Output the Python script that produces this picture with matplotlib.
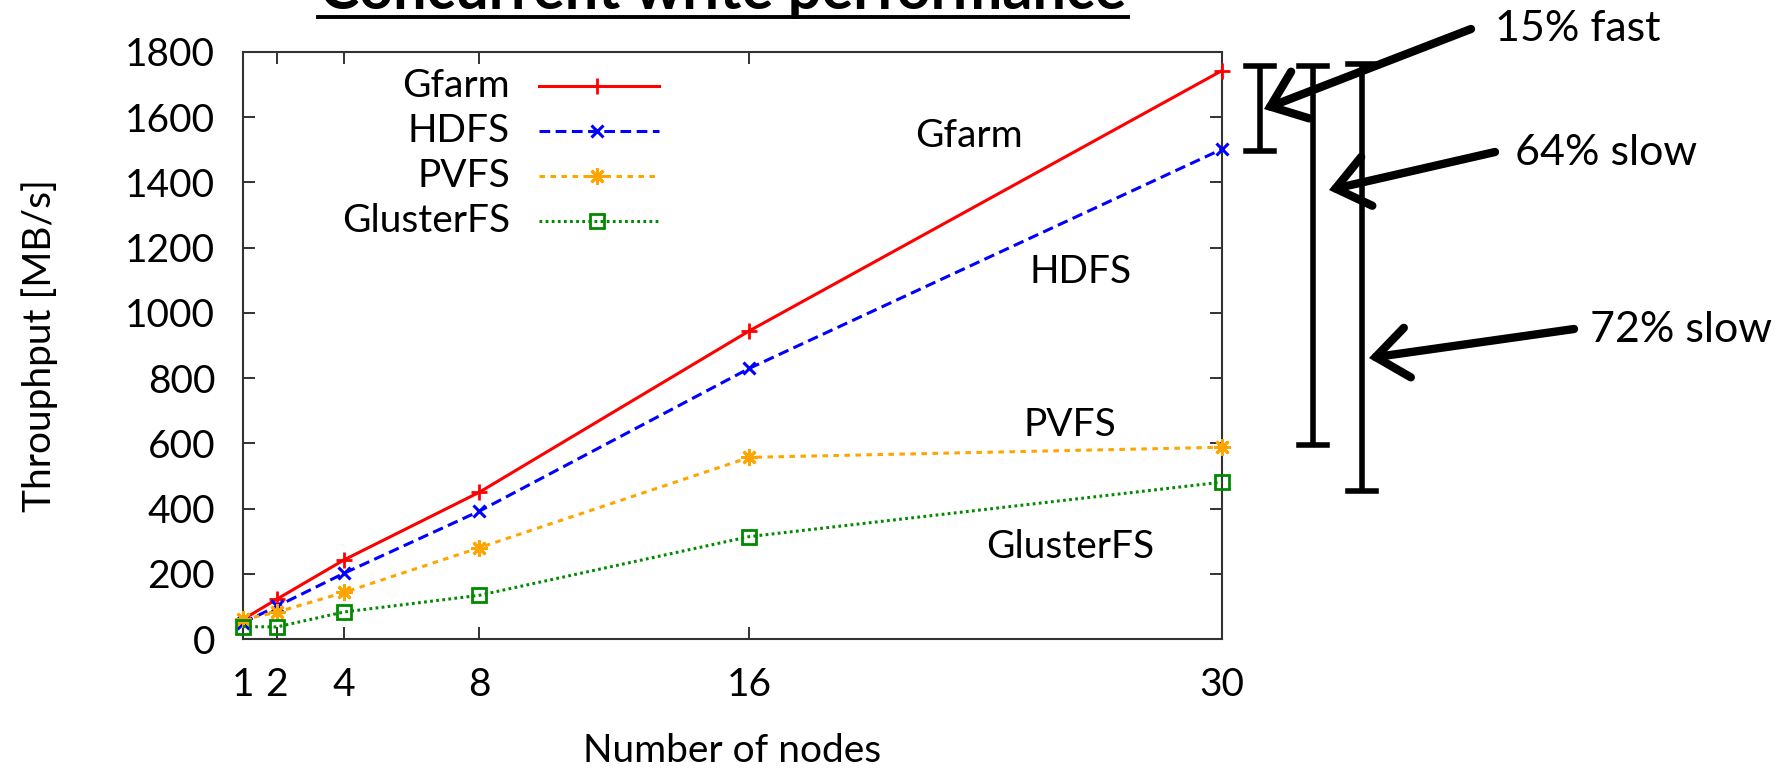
import matplotlib
matplotlib.use("Agg")
import matplotlib.pyplot as plt
from matplotlib.lines import Line2D

plt.rcParams['font.family'] = ['Lato', 'DejaVu Sans']

nodes   = [1, 2, 4, 8, 16, 30]
gfarm   = [60, 122, 243, 450, 945, 1743]
hdfs    = [50, 100, 202, 392, 830, 1502]
pvfs    = [60, 82, 143, 280, 557, 588]
gluster = [38, 37, 83, 134, 314, 481]

names   = ["Gfarm", "HDFS", "PVFS", "GlusterFS"]
colors  = ["#ff0000", "#0000ff", "#ffa500", "#008a00"]
# in-plot series labels (data coords)
label_x = [22.5, 25.8, 25.5, 25.5]
label_y = [1543, 1126, 657, 283]

# comparison brackets at the right (top, bottom in MB/s)
br_x      = [31.13, 32.70, 34.15]
br_top    = [1756, 1756, 1764]
br_bottom = [1495, 594, 455]
br_text   = ["15% fast", "64% slow", "72% slow"]

W, H = 1779, 773
fig = plt.figure(figsize=(W / 100, H / 100), dpi=100)
ax = fig.add_axes([243 / W, (H - 639) / H, 979 / W, 587 / H])

series = [gfarm, hdfs, pvfs, gluster]
styles = [
    dict(ls='-', marker='+', ms=11, mew=2),
    dict(ls=(0, (3.5, 1.8)), marker='x', ms=9, mew=2.2),
    dict(ls=(0, (1.8, 1.8)), marker=(8, 2, 0), ms=12, mew=2),
    dict(ls=(0, (0.9, 1.1)), marker='s', ms=10, mew=2, mfc='none'),
]
for vals, c, st in zip(series, colors, styles):
    ax.plot(nodes, vals, color=c, lw=2.2, clip_on=False, zorder=3, **st)

# gnuplot-like legend: text right-aligned, sample on the right
leg_y = [0.9426, 0.8659, 0.7893, 0.7121]
for name, c, st, yy in zip(names, colors, styles, leg_y):
    ax.text(0.2727, yy, name, transform=ax.transAxes, ha='right', va='center', fontsize=28)
    s = dict(st)
    mk = dict(marker=s.pop('marker'), ms=s.pop('ms'), mew=s.pop('mew'))
    if 'mfc' in s:
        mk['mfc'] = s.pop('mfc')
    ax.plot([0.3024, 0.4249], [yy, yy], transform=ax.transAxes, color=c, lw=2.2, **s)
    ax.plot([0.3616], [yy], transform=ax.transAxes, color=c, ls='none', **mk)

for name, x, y in zip(names, label_x, label_y):
    ax.text(x, y, name, ha='center', va='center', fontsize=28)

ax.set_xlim(1, 30)
ax.set_ylim(0, 1800)
ax.set_xticks(nodes)
ax.set_yticks(range(0, 1801, 200))
ax.tick_params(direction='in', top=True, right=True, length=8.5, width=1.4,
               labelsize=28, color='#333333')
ax.tick_params(axis='x', pad=20)
ax.tick_params(axis='y', pad=20)
for sp in ax.spines.values():
    sp.set_linewidth(1.5)
    sp.set_color('#333333')

ax.set_xlabel("Number of nodes", fontsize=28, labelpad=22)
ax.set_ylabel("Throuphput [MB/s]", fontsize=28, labelpad=48)

# brackets
cap = 0.42
for x, t, b in zip(br_x, br_top, br_bottom):
    ax.plot([x, x], [b, t], color='black', lw=4, clip_on=False, solid_capstyle='butt')
    ax.plot([x - cap, x + cap], [t, t], color='black', lw=4, clip_on=False)
    ax.plot([x - cap, x + cap], [b, b], color='black', lw=4, clip_on=False)

# arrows and their texts (figure pixels)
arr_tail = [(1471, H - 29), (1495, H - 152), (1574, H - 329)]
arr_tip  = [(1264, H - 109), (1329, H - 190), (1369, H - 358)]
txt_pos  = [(1495, H - 29), (1515, H - 153), (1590, H - 330)]
for tail, tip, tp, s in zip(arr_tail, arr_tip, txt_pos, br_text):
    ax.annotate('', xy=tip, xytext=tail, xycoords='figure pixels', textcoords='figure pixels',
                arrowprops=dict(arrowstyle='->,head_length=2.3,head_width=1.8', lw=6,
                                color='black', shrinkA=0, shrinkB=0, mutation_scale=10,
                                capstyle='round', joinstyle='miter'))
    fig.text(tp[0] / W, tp[1] / H, s, ha='left', va='center', fontsize=31)

# title, cut at the top of the image, underlined
title = fig.text(723 / W, 1 - 9 / H, "Concurrent write performance", ha='center',
                 va='baseline', fontsize=40, fontweight='bold')
fig.canvas.draw()
bb = title.get_window_extent()
title.set_fontsize(40 * 805 / bb.width)
fig.canvas.draw()
bb = title.get_window_extent()
uy = 1 - 17 / H
fig.add_artist(Line2D([bb.x0 / W - 0.001, bb.x1 / W + 0.001], [uy, uy],
                      transform=fig.transFigure, color='black', lw=2.8))

fig.savefig("out.png", dpi=100)
